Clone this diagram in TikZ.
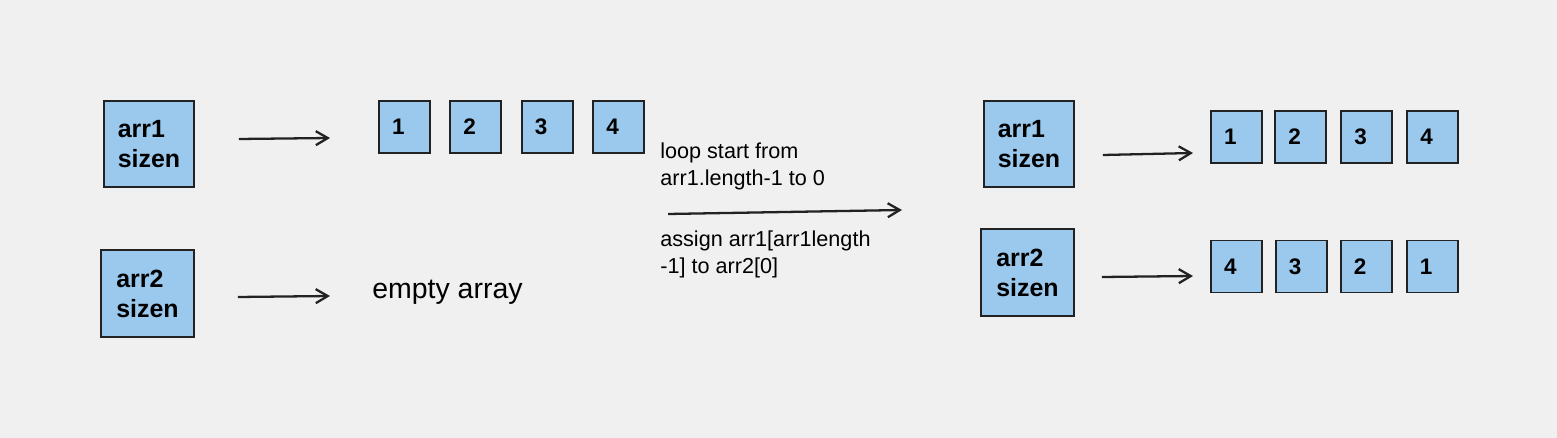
\documentclass[tikz,border=0pt]{standalone}
\usepackage{fontspec}
\setmainfont{Liberation Sans}
\usetikzlibrary{arrows.meta, positioning}
\definecolor{cellblue}{HTML}{9BC9EE}
\definecolor{bggray}{HTML}{F0F0F0}
\definecolor{inkdark}{HTML}{222222}

\begin{document}
\begin{tikzpicture}[
    x=0.02cm, y=-0.02cm,
    namebox/.style={draw=inkdark, fill=cellblue, line width=1.1pt, minimum width=#1,
                    minimum height=1.73cm, align=left, inner sep=0pt,
                    font=\fontsize{14.2}{17}\selectfont\bfseries},
    namebox/.default=1.8cm,
    cell/.style={draw=inkdark, fill=cellblue, line width=1.1pt, minimum height=1.04cm,
                 text width=0.5cm, inner xsep=0.26cm, inner ysep=0pt, align=left,
                 font=\fontsize{12.8}{14}\selectfont\bfseries},
    note/.style={inner sep=0pt, align=left, font=\fontsize{12.3}{15.4}\selectfont},
    arrow/.style={-{Straight Barb[length=2.4mm, width=2.8mm]}, line width=1.3pt, draw=inkdark}
]

% Canvas
\fill[bggray] (0,0) rectangle (1557,438);
\useasboundingbox (0,0) rectangle (1557,438);

% Before: sizes and arrays
\node[namebox] (a1L) at (149,144) {arr1\\sizen};
\node[namebox=1.86cm] (a2L) at (147.5,293.5) {arr2\\sizen};

\node[cell] (p1) at (404.5,127) {1};
\node[cell, right=0.37cm of p1] (p2) {2};
\node[cell, right=0.37cm of p2] (p3) {3};
\node[cell, right=0.37cm of p3] (p4) {4};

\node[inner sep=0pt, anchor=west, font=\fontsize{16.2}{19}\selectfont] (empty) at (372,292) {empty array};

% Loop description
\node[note, anchor=west] (loopnote) at (660,166) {loop start from\\arr1.length-1 to 0};
\node[note, anchor=west] (assignnote) at (660,254) {assign arr1[arr1length\\-1] to arr2[0]};
\coordinate (sweep start) at (668,214);
\coordinate (sweep end) at (902,210);

% After: sizes and arrays
\node[namebox] (a1R) at (1029,144) {arr1\\sizen};
\node[namebox=1.86cm] (a2R) at (1027.5,272.5) {arr2\\sizen};

\node[cell] (q1) at (1236.5,137) {1};
\node[cell, right=0.23cm of q1] (q2) {2};
\node[cell, right=0.26cm of q2] (q3) {3};
\node[cell, right=0.26cm of q3] (q4) {4};

\node[cell] (s1) at (1236.5,266.5) {4};
\node[cell, right=0.24cm of s1] (s2) {3};
\node[cell, right=0.24cm of s2] (s3) {2};
\node[cell, right=0.26cm of s3] (s4) {1};

% Arrows
\draw[arrow] ([shift={(44,-5)}]a1L.east) -- ([shift={(-48,11)}]p1.west);
\draw[arrow] ([shift={(43,3.5)}]a2L.east) -- ([shift={(-42,4)}]empty.west);
\draw[arrow] (sweep start) -- (sweep end);
\draw[arrow] ([shift={(28,11)}]a1R.east) -- ([shift={(-17,16)}]q1.west);
\draw[arrow] ([shift={(27,4.5)}]a2R.east) -- ([shift={(-17,9.5)}]s1.west);

\end{tikzpicture}
\end{document}
